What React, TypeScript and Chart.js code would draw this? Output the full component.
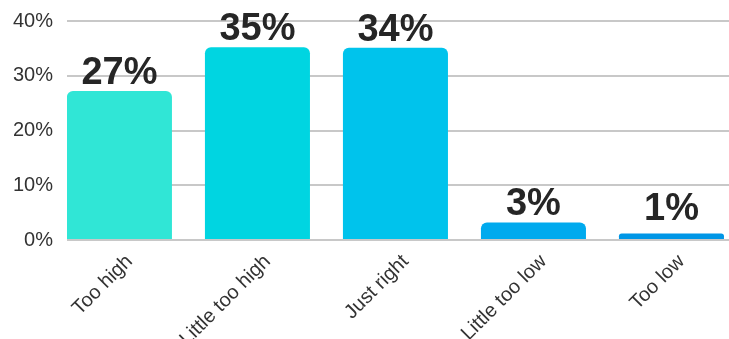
import React, { useEffect, useRef } from "react";
import { Chart, registerables } from "chart.js";

Chart.register(...registerables);

const categories = ["Too high", "Little too high", "Just right", "Little too low", "Too low"];
const values = [27.2, 35.2, 35.1, 3.2, 1.2];
const valueLabels = ["27%", "35%", "34%", "3%", "1%"];
const barColors = ["#30E6D6", "#00D5E1", "#00C3EC", "#00AAEE", "#0096E6"];
const yTicks = [0, 10, 20, 30, 40];

const FONT = "'Liberation Sans', Arial, sans-serif";

const valueLabelPlugin = {
  id: "valueLabels",
  afterDatasetsDraw(chart: any) {
    const { ctx } = chart;
    const meta = chart.getDatasetMeta(0);
    const yScale = chart.scales.y;
    const base = yScale.getPixelForValue(0);
    ctx.save();
    ctx.font = `bold 38px ${FONT}`;
    ctx.fillStyle = "#262626";
    ctx.textAlign = "center";
    ctx.textBaseline = "alphabetic";
    meta.data.forEach((bar: any, i: number) => {
      const y = Math.min(bar.y - 7, base - 20);
      ctx.fillText(valueLabels[i], bar.x, y);
    });
    ctx.restore();
  },
};

export default function App() {
  const ref = useRef<HTMLCanvasElement | null>(null);
  useEffect(() => {
    if (!ref.current) return;
    const chart = new Chart(ref.current, {
      type: "bar",
      data: {
        datasets: [
          {
            data: values.map((v, i) => ({ x: i, y: v })),
            backgroundColor: barColors,
            borderRadius: 6,
            borderSkipped: "start",
            barPercentage: 0.761,
            categoryPercentage: 1,
          },
        ],
      },
      options: {
        animation: false,
        responsive: false,
        maintainAspectRatio: false,
        layout: { padding: { top: 21, right: 0, left: 0, bottom: 0 } },
        plugins: { legend: { display: false }, tooltip: { enabled: false } },
        scales: {
          x: {
            type: "linear",
            offset: false,
            min: -0.38,
            max: 4.417,
            grid: { display: false, offset: false },
            border: { display: false },
            afterBuildTicks: (scale: any) => {
              scale.ticks = categories.map((_, i) => ({ value: i }));
            },
            afterFit: (scale: any) => {
              scale.height = 99;
              scale.paddingLeft = 0;
              scale.paddingRight = 0;
            },
            ticks: {
              minRotation: 45,
              maxRotation: 45,
              autoSkip: false,
              padding: 2,
              labelOffset: 10,
              color: "#333333",
              font: { family: FONT, size: 20 },
              callback: (v: any) => categories[Math.round(Number(v))] ?? "",
            },
          },
          y: {
            min: 0,
            max: 40,
            afterBuildTicks: (scale: any) => {
              scale.ticks = yTicks.map((v) => ({ value: v }));
            },
            afterFit: (scale: any) => {
              scale.width = 67;
              scale.paddingTop = 0;
              scale.paddingBottom = 0;
            },
            grid: { color: "#C8C8C8", lineWidth: 2, drawTicks: false },
            border: { display: false },
            ticks: {
              padding: 14,
              color: "#333333",
              font: { family: FONT, size: 20 },
              callback: (v: any) => `${v}%`,
            },
          },
        },
      },
      plugins: [valueLabelPlugin],
    });
    return () => chart.destroy();
  }, []);
  return (
    <div style={{ position: "fixed", left: 0, top: 0, width: 729, height: 339, background: "#fff" }}>
      <canvas ref={ref} width={729} height={339} style={{ width: 729, height: 339 }} />
    </div>
  );
}
